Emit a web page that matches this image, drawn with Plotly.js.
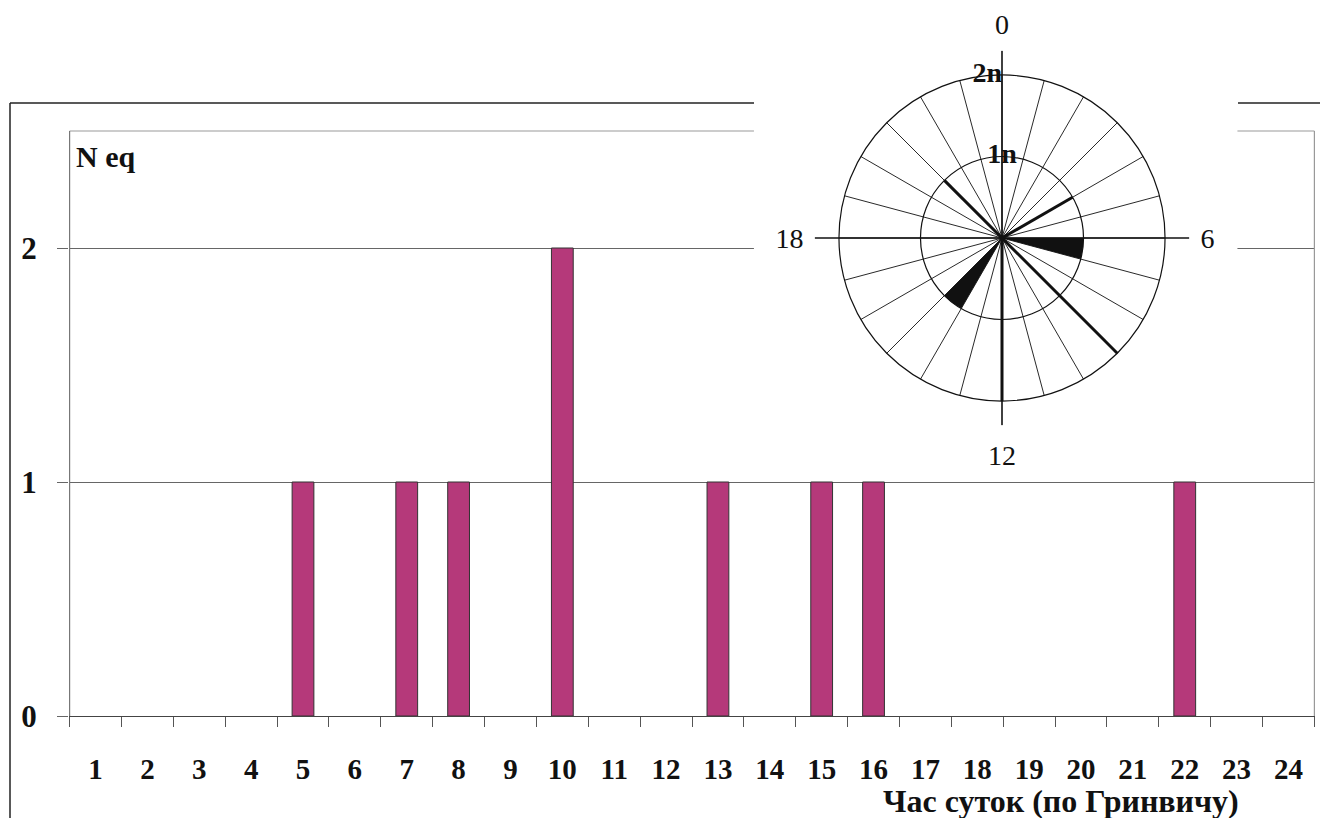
<!DOCTYPE html>
<html><head><meta charset="utf-8">
<script src="https://cdn.plot.ly/plotly-3.0.1.min.js"></script>
<style>html,body{margin:0;padding:0;background:#fff}</style>
</head><body><div id="chart" style="width:1320px;height:818px"></div>
<script>
// ---- main bar chart data ----
const hours = ['1','2','3','4','5','6','7','8','9','10','11','12','13','14','15','16','17','18','19','20','21','22','23','24'];
const counts = [0,0,0,0,1,0,1,1,0,2,0,0,1,0,1,1,0,0,0,0,0,1,0,0];
const yTickVals = [0,1,2];
const yTickText = ['0','1','2'];
const yAxisLabel = 'N eq';
const xAxisLabel = 'Час суток (по Гринвичу)';

// ---- inset rose (24-hour clock) data ----
const roseHours = [0,1,2,3,4,5,6,7,8,9,10,11,12,13,14,15,16,17,18,19,20,21,22,23];
const roseAxisHours = [0,6,12,18];
const roseAxisLabels = ['0','6','12','18'];
const wedgeStartHours = [6,14];
const wedgeValues = [1,1];
const spikeHours = [4,9,12,21];
const spikeValues = [1,2,2,1];
const ringValues = [1,2];
const ringLabels = ['1n','2n'];

const DEG_PER_HOUR = 15;
const RING_MAX = 2;
const AXIS_EXT = 2.3;

function segs(hList, rList){
  const r=[], t=[];
  hList.forEach((h,i)=>{ r.push(0, rList[i], null); t.push(h*DEG_PER_HOUR, h*DEG_PER_HOUR, null); });
  return {r, theta:t};
}

const serif = 'Liberation Serif, Times New Roman, serif';

const traces = [
  {type:'bar', x:hours, y:counts, xaxis:'x', yaxis:'y',
   marker:{color:'#B5397A', line:{color:'#333', width:counts.map(c=>c>0?1:0)}}, hoverinfo:'skip'},
  // spokes
  Object.assign({type:'scatterpolar', mode:'lines', line:{color:'#111', width:0.9}, hoverinfo:'skip'},
    segs(roseHours, roseHours.map(()=>RING_MAX))),
  // main cross axes
  Object.assign({type:'scatterpolar', mode:'lines', line:{color:'#111', width:1.6}, hoverinfo:'skip'},
    segs(roseAxisHours, roseAxisHours.map(()=>AXIS_EXT))),
  // wedges
  {type:'barpolar', r:wedgeValues, theta:wedgeStartHours.map(h=>h*DEG_PER_HOUR+DEG_PER_HOUR/2),
   width:wedgeStartHours.map(()=>DEG_PER_HOUR), marker:{color:'#111', line:{width:0}}, hoverinfo:'skip'},
  // bold spikes
  Object.assign({type:'scatterpolar', mode:'lines', line:{color:'#111', width:3}, hoverinfo:'skip'},
    segs(spikeHours, spikeValues)),
  // ring labels
  {type:'scatterpolar', mode:'text', r:ringValues, theta:ringValues.map(()=>0), text:ringLabels,
   textposition:['middle center','middle left'], textfont:{family:serif, size:28, color:'#111', weight:'bold'}, hoverinfo:'skip'}
];

const W=1320, H=818;
const px = v=>v/W, py = v=>1-v/H;

const layout = {
  width:W, height:H, margin:{l:0,r:0,t:0,b:0},
  paper_bgcolor:'#fff', plot_bgcolor:'rgba(0,0,0,0)',
  showlegend:false, bargap:0.58, hovermode:false,
  xaxis:{domain:[px(69),px(1315)], type:'category', tickson:'boundaries',
    ticks:'outside', ticklen:10, tickcolor:'#555', tickwidth:1,
    showline:true, linecolor:'#444', linewidth:1.2, showgrid:false, zeroline:false,
    ticklabelstandoff:27,
    tickfont:{family:serif, size:29, color:'#111', weight:'bold'}},
  yaxis:{domain:[py(716),py(716-2.52*234)], range:[0,2.52],
    tickvals:yTickVals, ticktext:yTickText,
    ticks:'outside', ticklen:11, tickcolor:'#666',
    showgrid:true, gridcolor:'#666', gridwidth:1, zeroline:false,
    showline:false, ticklabelstandoff:14,
    tickfont:{family:serif, size:31, color:'#111', weight:'bold'}},
  polar:{domain:{x:[px(814.5),px(1189.5)], y:[py(425.5),py(50.5)]},
    bgcolor:'rgba(0,0,0,0)', bargap:0,
    angularaxis:{rotation:90, direction:'clockwise', tickvals:roseAxisHours.map(h=>h*DEG_PER_HOUR),
      ticktext:roseAxisLabels, showgrid:false, showline:false, ticks:'outside', ticklen:5,
      tickcolor:'rgba(0,0,0,0)', tickfont:{family:serif, size:28, color:'#111'}},
    radialaxis:{range:[0,AXIS_EXT], tickvals:ringValues, showticklabels:false, ticks:'',
      showline:false, showgrid:true, gridcolor:'#111', gridwidth:1.2}
  },
  shapes:[
    // plot-area border (top, left, right)
    {type:'line', xref:'x', yref:'y', x0:-0.5, x1:23.5, y0:2.5, y1:2.5, layer:'between', line:{color:'#999', width:1.2}},
    {type:'line', xref:'x', yref:'y', x0:-0.5, x1:-0.5, y0:0, y1:2.5, layer:'between', line:{color:'#777', width:1.2}},
    {type:'line', xref:'x', yref:'y', x0:23.5, x1:23.5, y0:0, y1:2.5, layer:'between', line:{color:'#999', width:1.2}},
    // white backing of the inset
    {type:'rect', xref:'x', yref:'y', x0:12.694, x1:22.016, y0:1.05, y1:3, layer:'between', fillcolor:'#fff', line:{width:0}},
    // outer frame
    {type:'line', xref:'paper', yref:'paper', x0:px(10), x1:px(10), y0:py(103), y1:0, line:{color:'#222', width:1.5}},
    {type:'line', xref:'paper', yref:'paper', x0:px(10), x1:px(754), y0:py(103), y1:py(103), line:{color:'#222', width:1.5}},
    {type:'line', xref:'paper', yref:'paper', x0:px(1238), x1:1, y0:py(103), y1:py(103), line:{color:'#222', width:1.5}}
  ],
  annotations:[
    {text:yAxisLabel, xref:'paper', yref:'paper', x:px(74), y:py(156), xanchor:'left', yanchor:'middle',
     showarrow:false, font:{family:serif, size:30, color:'#111', weight:'bold'}},
    {text:xAxisLabel, xref:'paper', yref:'paper', x:px(1061), y:py(801), xanchor:'center', yanchor:'middle',
     showarrow:false, font:{family:serif, size:32, color:'#111', weight:'bold'}}
  ]
};

Plotly.newPlot('chart', traces, layout, {staticPlot:true, displayModeBar:false});
</script></body></html>
